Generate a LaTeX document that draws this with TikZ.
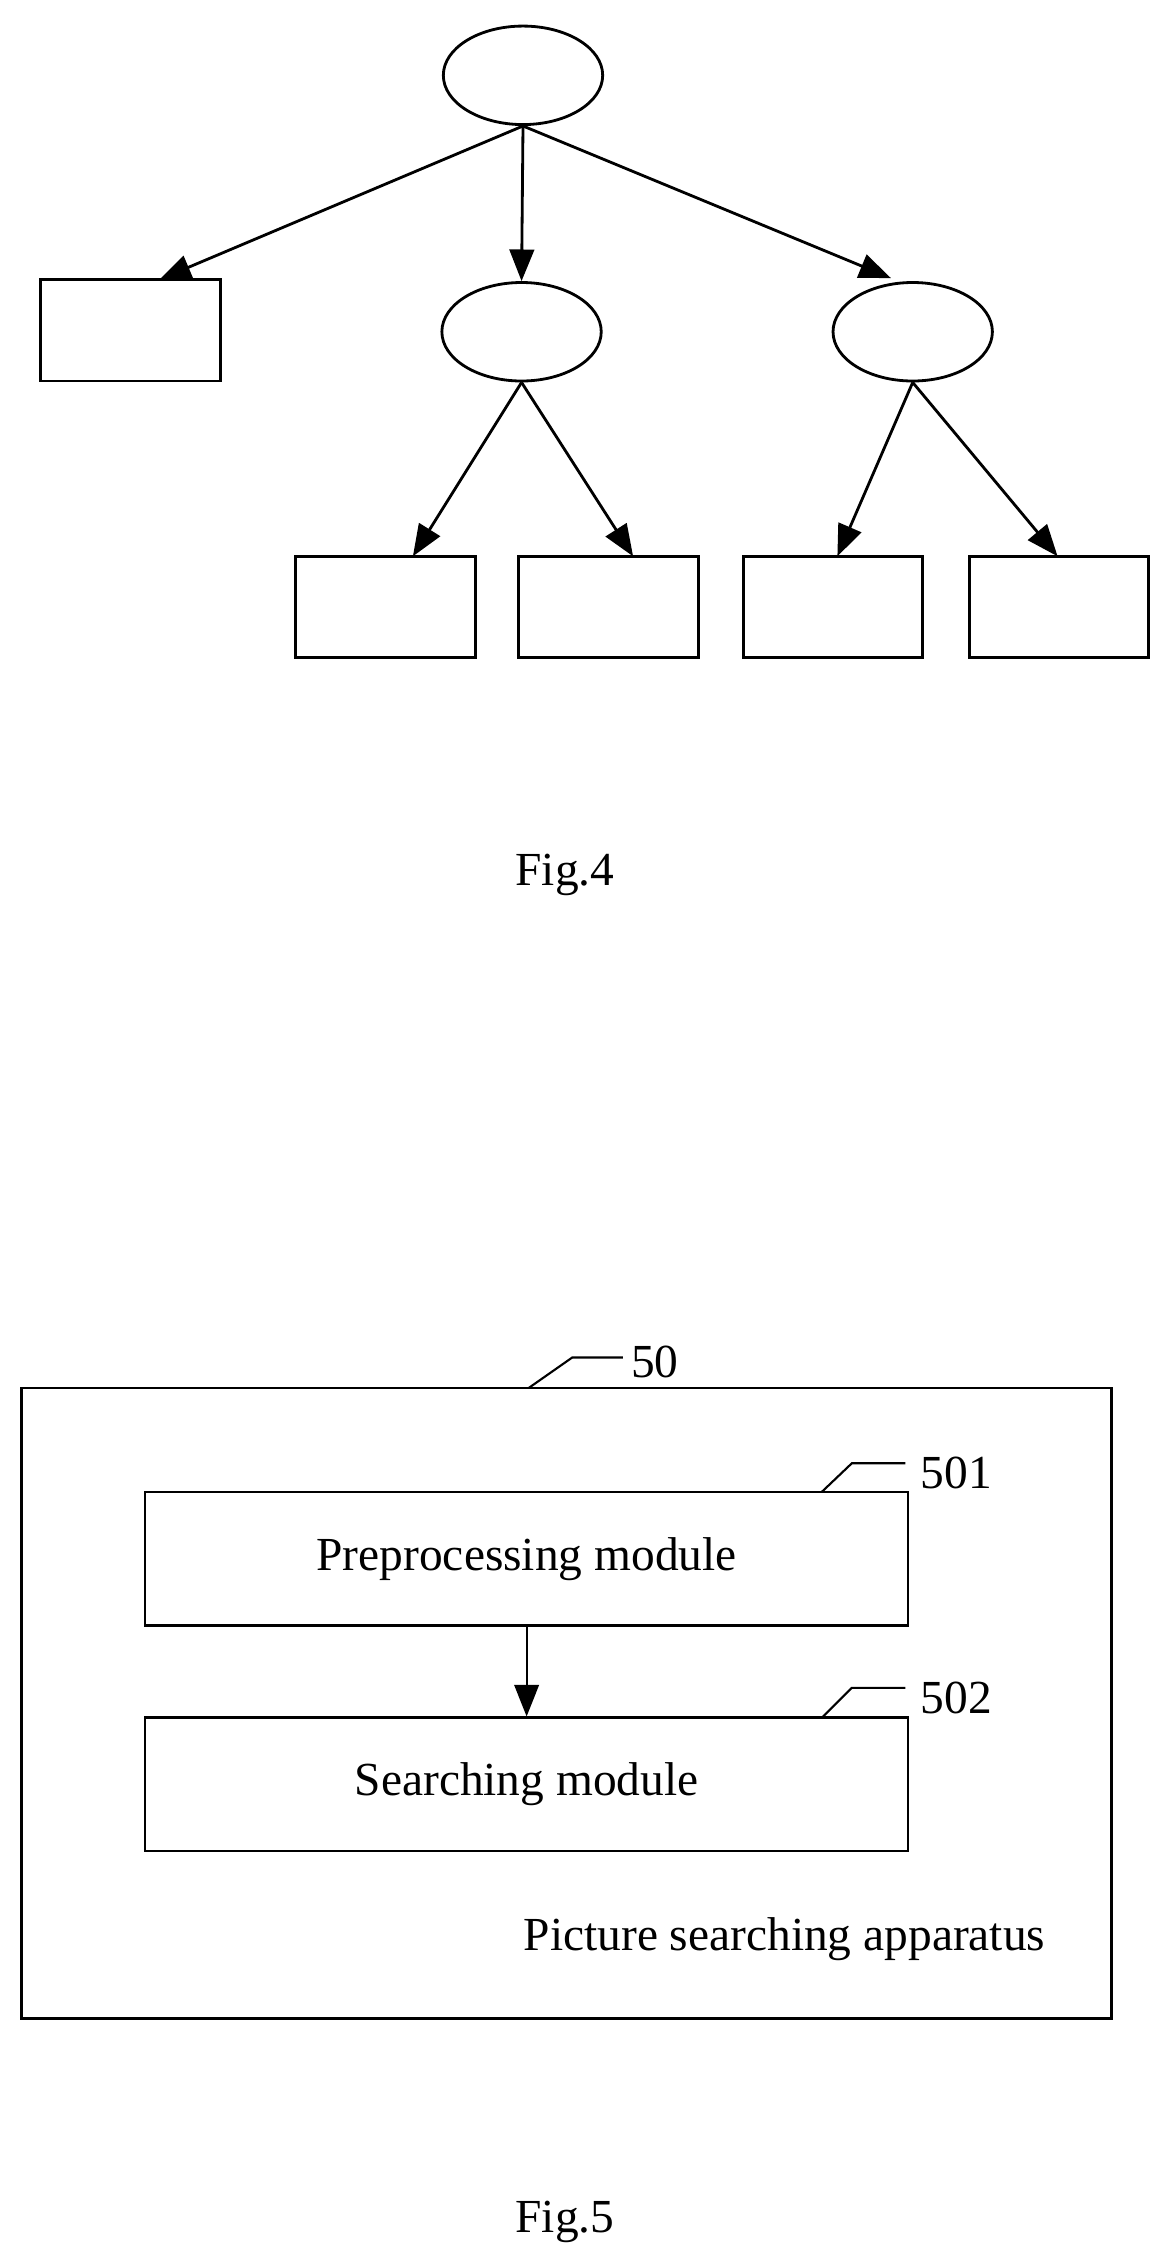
\documentclass[tikz,border=0pt]{standalone}
\usepackage{fontspec}
\setmainfont{Liberation Serif}
\usetikzlibrary{positioning, shapes.geometric, arrows.meta}

\tikzset{
  oval/.style={draw, ellipse, inner sep=0pt, minimum width={110*0.01449cm}, minimum height={68*0.01449cm}, line width=0.8pt},
  leaf/.style={draw, rectangle, inner sep=0pt, minimum width={124*0.01449cm}, minimum height={70*0.01449cm}, line width=0.8pt},
  module/.style={draw, rectangle, minimum width={527*0.01449cm}, minimum height={92*0.01449cm}, line width=0.6pt, font=\fontsize{13.5}{16}\selectfont},
  edge/.style={-{Triangle[length=9pt,width=7pt]}, line width=0.8pt},
  lead/.style={line width=0.6pt},
  caption/.style={font=\fontsize{13.5}{16}\selectfont}
}

\begin{document}
\begin{tikzpicture}[x=0.01449cm, y=-0.01449cm]
  \useasboundingbox (0,0) rectangle (800,1551);

  % Fig.4: tree
  \node[oval] (root) at (361,52) {};
  \node[leaf] (l1) at (90,228) {};
  \node[oval] (mid) at (360,229) {};
  \node[oval] (rgt) at (630,229) {};
  \node[leaf] (b1) at (266,419) {};
  \node[leaf] (b2) at (420,419) {};
  \node[leaf] (b3) at (575,419) {};
  \node[leaf] (b4) at (731,419) {};
  \coordinate (t1) at (110,193);
  \coordinate (tr) at (615,192);
  \coordinate (tb1) at (285,384);
  \coordinate (tb2) at (437,384);
  \coordinate (tb3) at (578,384);
  \coordinate (tb4) at (730,384);

  \draw[edge] (root.south) -- (t1);
  \draw[edge] (root.south) -- (mid.north);
  \draw[edge] (root.south) -- (tr);
  \draw[edge] (mid.south) -- (tb1);
  \draw[edge] (mid.south) -- (tb2);
  \draw[edge] (rgt.south) -- (tb3);
  \draw[edge] (rgt.south) -- (tb4);

  \node[caption] (fig4) at (390,604) {Fig.4};

  % Fig.5: apparatus
  \node[draw, rectangle, minimum width={752*0.01449cm}, minimum height={435*0.01449cm}, line width=0.8pt] (app) at (391,1175.5) {};
  \node[module] (pre) at (363.5,1076) {Preprocessing module};
  \node[module] (srch) at (363.5,1231.5) {Searching module};
  \draw[edge, line width=0.6pt] (pre.south) -- (srch.north);

  \node[caption, anchor=south east] (name) at (730,1362) {Picture searching apparatus};

  \node[caption] (n50) at (452,940) {50};
  \node[caption] (n501) at (660,1017) {501};
  \node[caption] (n502) at (660,1172) {502};
  \coordinate (c50) at (365,958);
  \coordinate (c501) at (567,1030);
  \coordinate (c502) at (567,1186);
  \draw[lead] (c50) -- (395,937) -- (430,937);
  \draw[lead] (c501) -- (588,1010) -- (625,1010);
  \draw[lead] (c502) -- (588,1165) -- (625,1165);

  \node[caption] (fig5) at (390,1534) {Fig.5};
\end{tikzpicture}
\end{document}
